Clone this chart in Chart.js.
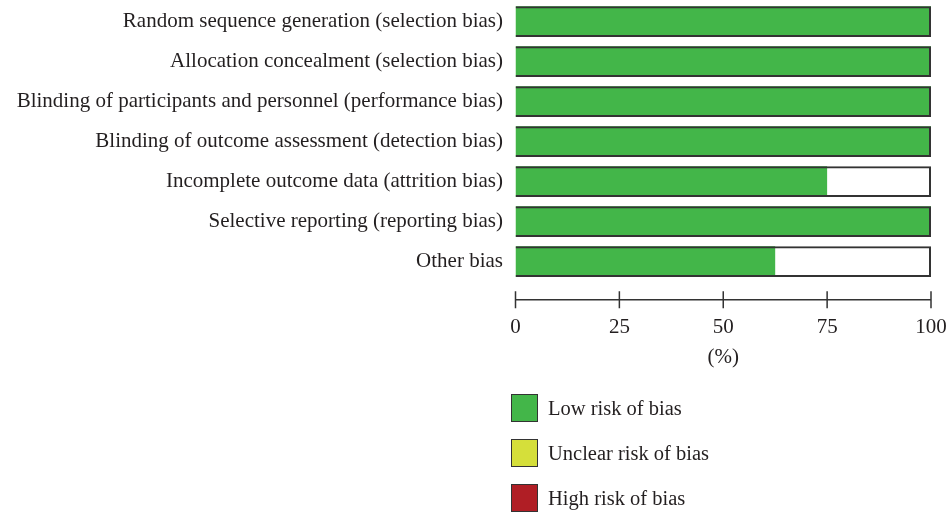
<!DOCTYPE html>
<html>
<head>
<meta charset="utf-8">
<script src="https://cdn.jsdelivr.net/npm/chart.js@4.4.1/dist/chart.umd.min.js"></script>
<style>
  html, body { margin: 0; padding: 0; background: #fff; }
  #wrap { position: relative; width: 946px; height: 513px; }
  #legend { position: absolute; left: 511px; top: 394px; font-family: "Liberation Serif", "DejaVu Serif", serif; font-size: 20.5px; color: #231f20; }
  .item { display: flex; align-items: center; height: 28px; margin-bottom: 17px; }
  .box { width: 25px; height: 26px; border: 1.5px solid #333; margin-right: 10px; box-sizing: content-box; }
</style>
</head>
<body>
<div id="wrap">
  <canvas id="c" width="946" height="513"></canvas>
  <div id="legend"></div>
</div>
<script>
const categories = [
  "Random sequence generation (selection bias)",
  "Allocation concealment (selection bias)",
  "Blinding of participants and personnel (performance bias)",
  "Blinding of outcome assessment (detection bias)",
  "Incomplete outcome data (attrition bias)",
  "Selective reporting (reporting bias)",
  "Other bias"
];
const lowRisk = [100, 100, 100, 100, 75, 100, 62.5];
const unclearRisk = [0, 0, 0, 0, 0, 0, 0];
const highRisk = [0, 0, 0, 0, 0, 0, 0];
const frameTotal = [100, 100, 100, 100, 100, 100, 100];
const xTicks = [0, 25, 50, 75, 100];
const seriesNames = ["Low risk of bias", "Unclear risk of bias", "High risk of bias"];
const seriesColors = ["#43b649", "#d5df3a", "#b01e25"];

const FONT = "'Liberation Serif', 'DejaVu Serif', serif";
const TEXT = "#231f20";

const axisPlugin = {
  id: 'floatingAxis',
  afterDraw(chart) {
    const ctx = chart.ctx;
    const xs = chart.scales.x;
    const y = chart.chartArea.bottom + 18;
    ctx.save();
    ctx.strokeStyle = "#333";
    ctx.lineWidth = 1.5;
    ctx.beginPath();
    ctx.moveTo(xs.getPixelForValue(xTicks[0]), y);
    ctx.lineTo(xs.getPixelForValue(xTicks[xTicks.length - 1]), y);
    xTicks.forEach(v => {
      const px = xs.getPixelForValue(v);
      ctx.moveTo(px, y - 8.5);
      ctx.lineTo(px, y + 8.5);
    });
    ctx.stroke();
    ctx.restore();
  }
};

function zeroPad(scale) {
  scale.paddingTop = 0; scale.paddingBottom = 0;
  scale.paddingLeft = 0; scale.paddingRight = 0;
}

const common = { grouped: false, barPercentage: 0.77, categoryPercentage: 1.0 };

new Chart(document.getElementById('c'), {
  type: 'bar',
  data: {
    labels: categories,
    datasets: [
      Object.assign({ label: seriesNames[0], data: lowRisk, backgroundColor: seriesColors[0], borderWidth: 0, stack: 'risk', order: 1 }, common),
      Object.assign({ label: seriesNames[1], data: unclearRisk, backgroundColor: seriesColors[1], borderWidth: 0, stack: 'risk', order: 1 }, common),
      Object.assign({ label: seriesNames[2], data: highRisk, backgroundColor: seriesColors[2], borderWidth: 0, stack: 'risk', order: 1 }, common),
      Object.assign({ label: 'frame', data: frameTotal, backgroundColor: 'rgba(0,0,0,0)', borderColor: '#333', borderWidth: 2, stack: 'frame', order: 0 }, common)
    ]
  },
  options: {
    indexAxis: 'y',
    responsive: false,
    animation: false,
    devicePixelRatio: 1,
    layout: { padding: { top: 1.7, right: 15, bottom: 143.4, left: 0 } },
    plugins: { legend: { display: false }, tooltip: { enabled: false } },
    scales: {
      x: {
        stacked: true,
        min: 0, max: 100,
        afterBuildTicks(scale) { scale.ticks = xTicks.map(v => ({ value: v })); },
        afterFit(scale) { scale.height = 87.9; zeroPad(scale); },
        grid: { display: false },
        border: { display: false },
        ticks: { padding: 25, color: TEXT, font: { family: FONT, size: 21 } },
        title: { display: true, text: '(%)', color: TEXT, font: { family: FONT, size: 21 }, padding: { top: 4.8, bottom: 0 } }
      },
      y: {
        stacked: true,
        grid: { display: false },
        border: { display: false },
        afterFit(scale) { scale.width = 515.5; zeroPad(scale); },
        ticks: { padding: 4.5, color: TEXT, font: { family: FONT, size: 21 } }
      }
    }
  },
  plugins: [axisPlugin]
});

const legend = document.getElementById('legend');
seriesNames.forEach((name, i) => {
  const item = document.createElement('div');
  item.className = 'item';
  const box = document.createElement('div');
  box.className = 'box';
  box.style.background = seriesColors[i];
  const label = document.createElement('span');
  label.textContent = name;
  item.appendChild(box);
  item.appendChild(label);
  legend.appendChild(item);
});
</script>
</body>
</html>
